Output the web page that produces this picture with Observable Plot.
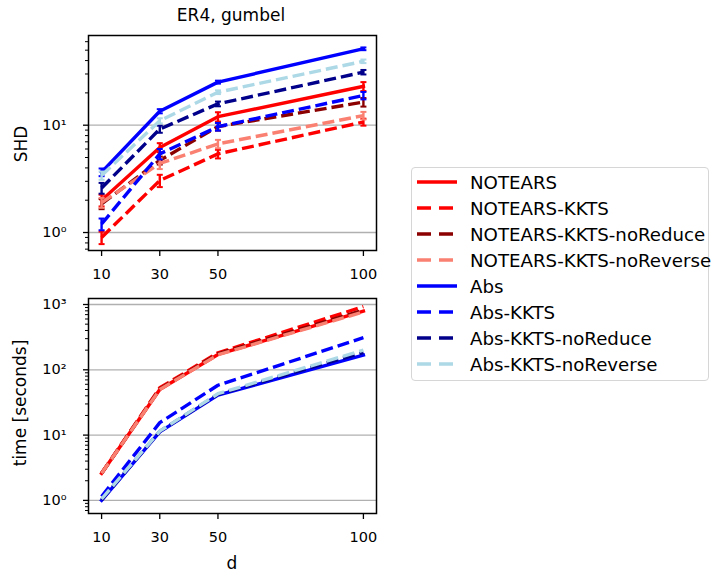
<!DOCTYPE html>
<html>
<head>
<meta charset="utf-8">
<script src="https://cdn.jsdelivr.net/npm/d3@7"></script>
<script src="https://cdn.jsdelivr.net/npm/@observablehq/plot@0.6"></script>
<style>
  body { margin: 0; background: #fff; font-family: "DejaVu Sans", sans-serif; }
  #wrap { position: relative; width: 711px; height: 573px; overflow: hidden; }
  .abs { position: absolute; }
  .lbl { position: absolute; white-space: nowrap; color: #000; font-family: "DejaVu Sans", sans-serif; }
  #legend { position: absolute; left: 411px; top: 167px; width: 298px; height: 214px;
            border: 1px solid #d6d6d6; border-radius: 4px; box-sizing: border-box; background: #fff; }
</style>
</head>
<body>
<div id="wrap"></div>
<script>
// ---------------- data ----------------
const dims = [10, 30, 50, 100];
const methods = ["NOTEARS", "NOTEARS-KKTS", "NOTEARS-KKTS-noReduce", "NOTEARS-KKTS-noReverse",
                 "Abs", "Abs-KKTS", "Abs-KKTS-noReduce", "Abs-KKTS-noReverse"];
const colors = ["red", "red", "#8b0000", "salmon", "blue", "blue", "#00008b", "lightblue"];
const dashed = [false, true, true, true, false, true, true, true];

// SHD (top panel)
const shdNOTEARS            = [2.0, 6.2, 12.0, 23.0];
const shdNOTEARS_KKTS       = [0.9, 3.05, 5.4, 10.7];
const shdNOTEARS_noReduce   = [1.85, 4.7, 9.7, 16.4];
const shdNOTEARS_noReverse  = [1.9, 4.4, 6.7, 12.3];
const shdAbs                = [3.65, 13.5, 25.2, 51.5];
const shdAbs_KKTS           = [1.2, 5.4, 9.7, 18.9];
const shdAbs_noReduce       = [2.6, 9.2, 15.8, 31.2];
const shdAbs_noReverse      = [3.4, 11.0, 20.3, 39.4];
// SHD error half-widths
const errNOTEARS            = [0.25, 0.6, 1.2, 2.2];
const errNOTEARS_KKTS       = [0.12, 0.4, 0.5, 0.8];
const errNOTEARS_noReduce   = [0.2, 0.4, 0.8, 1.5];
const errNOTEARS_noReverse  = [0.2, 0.5, 0.6, 1.0];
const errAbs                = [0.3, 0.6, 0.8, 1.5];
const errAbs_KKTS           = [0.15, 0.6, 0.8, 1.5];
const errAbs_noReduce       = [0.3, 0.7, 0.8, 1.5];
const errAbs_noReverse      = [0.3, 0.6, 0.8, 1.5];

// time in seconds (bottom panel)
const timeNOTEARS           = [2.6, 50, 172, 790];
const timeNOTEARS_KKTS      = [2.6, 53, 182, 930];
const timeNOTEARS_noReduce  = [2.6, 51, 176, 820];
const timeNOTEARS_noReverse = [2.6, 50, 170, 770];
const timeAbs               = [1.0, 11.2, 41, 168];
const timeAbs_KKTS          = [1.15, 15.5, 58, 310];
const timeAbs_noReduce      = [1.02, 11.4, 42, 185];
const timeAbs_noReverse     = [1.05, 11.5, 43, 200];

const xTicks = [10, 30, 50, 100];
const shdMajor = [1, 10];
const shdMinor = [0.7, 0.8, 0.9, 2, 3, 4, 5, 6, 7, 8, 9, 20, 30, 40, 50, 60];
const timeMajor = [1, 10, 100, 1000];
const timeMinor = [0.7, 0.8, 0.9, 2, 3, 4, 5, 6, 7, 8, 9, 20, 30, 40, 50, 60, 70, 80, 90,
                   200, 300, 400, 500, 600, 700, 800, 900];
const supLabels = {1: "10⁰", 10: "10¹", 100: "10²", 1000: "10³"};

const shdSeries = [shdNOTEARS, shdNOTEARS_KKTS, shdNOTEARS_noReduce, shdNOTEARS_noReverse,
                   shdAbs, shdAbs_KKTS, shdAbs_noReduce, shdAbs_noReverse];
const errSeries = [errNOTEARS, errNOTEARS_KKTS, errNOTEARS_noReduce, errNOTEARS_noReverse,
                   errAbs, errAbs_KKTS, errAbs_noReduce, errAbs_noReverse];
const timeSeries = [timeNOTEARS, timeNOTEARS_KKTS, timeNOTEARS_noReduce, timeNOTEARS_noReverse,
                    timeAbs, timeAbs_KKTS, timeAbs_noReduce, timeAbs_noReverse];

// ---------------- drawing ----------------
const wrap = document.getElementById("wrap");
const DASH = "12,5";
const LW = 3.4;
// horizontal cap symbol for error bars
const capSymbol = { draw(ctx) { ctx.moveTo(-3, 0); ctx.lineTo(3, 0); } };

function seriesMarks(valuesList, errList) {
  const marks = [];
  methods.forEach((m, i) => {
    const rows = dims.map((d, j) => ({
      d, v: valuesList[i][j],
      lo: errList ? valuesList[i][j] - errList[i][j] : null,
      hi: errList ? valuesList[i][j] + errList[i][j] : null
    }));
    marks.push(Plot.line(rows, {
      x: "d", y: "v", stroke: colors[i], strokeWidth: LW,
      strokeDasharray: dashed[i] ? DASH : null,
      strokeLinecap: dashed[i] ? "butt" : "square", strokeLinejoin: "round"
    }));
    if (errList) {
      marks.push(Plot.ruleX(rows, {x: "d", y1: "lo", y2: "hi", stroke: colors[i], strokeWidth: 2.4}));
      marks.push(Plot.dot(rows, {x: "d", y: "lo", symbol: capSymbol, stroke: colors[i], strokeWidth: 2, fill: "none"}));
      marks.push(Plot.dot(rows, {x: "d", y: "hi", symbol: capSymbol, stroke: colors[i], strokeWidth: 2, fill: "none"}));
    }
  });
  return marks;
}

function panel({top, height, marginTop, marginBottom, yDomain, major, minor, values, errs}) {
  const svg = Plot.plot({
    width: 390, height,
    marginLeft: 88, marginRight: 14, marginTop, marginBottom,
    style: {fontFamily: "DejaVu Sans, sans-serif", fontSize: "14.5px", color: "#000", background: "transparent"},
    x: {domain: [5.5, 104.5]},
    y: {type: "log", domain: yDomain},
    marks: [
      Plot.gridY(major, {stroke: "#b0b0b0", strokeOpacity: 1, strokeWidth: 1.3}),
      ...seriesMarks(values, errs),
      Plot.frame({stroke: "#000", strokeWidth: 1.5}),
      Plot.axisX(xTicks, {tickSize: 6, tickPadding: 12, tickFormat: d => String(d), label: null, strokeWidth: 1.3}),
      Plot.axisY(major, {tickSize: 5, tickPadding: 17, tickFormat: d => supLabels[d], label: null, strokeWidth: 1.3}),
      Plot.axisY(minor, {tickSize: 3, tickFormat: () => "", label: null, strokeWidth: 1})
    ]
  });
  svg.classList.add("abs");
  svg.style.left = "0px";
  svg.style.top = top + "px";
  wrap.appendChild(svg);
}

panel({top: 0, height: 285, marginTop: 35, marginBottom: 35, yDomain: [0.68, 68.5],
       major: shdMajor, minor: shdMinor, values: shdSeries, errs: errSeries});
panel({top: 285, height: 288, marginTop: 13, marginBottom: 60, yDomain: [0.63, 1236],
       major: timeMajor, minor: timeMinor, values: timeSeries, errs: null});

function label(text, cx, cy, size, rotate) {
  const el = document.createElement("div");
  el.className = "lbl";
  el.textContent = text;
  el.style.fontSize = size + "px";
  el.style.left = cx + "px";
  el.style.top = cy + "px";
  el.style.transform = "translate(-50%,-50%)" + (rotate ? " rotate(-90deg)" : "");
  wrap.appendChild(el);
}
label("ER4, gumbel", 231, 15, 17, false);
label("SHD", 21, 144, 17, true);
label("time [seconds]", 20, 403, 17, true);
label("d", 232, 563, 17, false);

// legend
const leg = document.createElement("div");
leg.id = "legend";
wrap.appendChild(leg);
methods.forEach((m, i) => {
  const y = 181.7 + i * 26.05 - 167;
  const s = document.createElementNS("http://www.w3.org/2000/svg", "svg");
  s.setAttribute("width", 44); s.setAttribute("height", 10);
  s.style.position = "absolute"; s.style.left = (417 - 411 - 1) + "px"; s.style.top = (y - 5 - 1) + "px";
  const ln = document.createElementNS("http://www.w3.org/2000/svg", "line");
  ln.setAttribute("x1", 0); ln.setAttribute("x2", 40); ln.setAttribute("y1", 5); ln.setAttribute("y2", 5);
  ln.setAttribute("stroke", colors[i]); ln.setAttribute("stroke-width", LW);
  if (dashed[i]) { ln.setAttribute("stroke-dasharray", "14,8"); }
  s.appendChild(ln);
  leg.appendChild(s);
  const t = document.createElement("div");
  t.className = "lbl";
  t.textContent = m;
  t.style.fontSize = "18.2px";
  t.style.left = (470 - 411 - 1) + "px";
  t.style.top = (y - 1) + "px";
  t.style.transform = "translateY(-50%)";
  leg.appendChild(t);
});
</script>
</body>
</html>
